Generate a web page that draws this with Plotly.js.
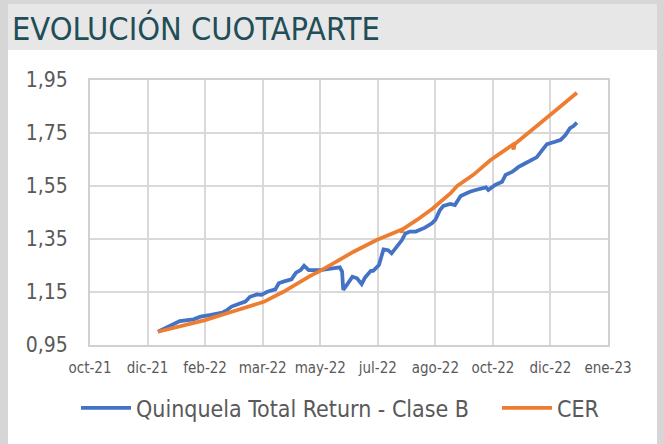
<!DOCTYPE html>
<html>
<head>
<meta charset="utf-8">
<script src="https://cdn.plot.ly/plotly-3.0.1.min.js"></script>
<style>
  html, body { margin: 0; padding: 0; background: #ffffff; }
  #wrap { position: relative; width: 664px; height: 444px; overflow: hidden; background: #ffffff; }
  #topstrip { position: absolute; left: 0; top: 0; width: 664px; height: 4px; background: #d6d6d6; }
  #header { position: absolute; left: 0; top: 4px; width: 664px; height: 46px; background: #e7e7e8; }
  #lborder { position: absolute; left: 0; top: 0; width: 8px; height: 444px; background: #d6d6d6; }
  #rborder { position: absolute; left: 657px; top: 0; width: 7px; height: 444px; background: #d6d6d6; }
  #chart { position: absolute; left: 0; top: 0; width: 664px; height: 444px; }
</style>
</head>
<body>
<div id="wrap">
  <div id="topstrip"></div>
  <div id="header"></div>
  <div id="lborder"></div>
  <div id="rborder"></div>
  <div id="chart"></div>
</div>
<script>
// ---- data ----
const seriesNames = ["Quinquela Total Return - Clase B", "CER"];

const fundDates = [
  "2021-12-26","2022-01-03","2022-01-10","2022-01-14","2022-01-26","2022-02-01","2022-02-09","2022-02-20",
  "2022-02-24","2022-02-28","2022-03-06","2022-03-12","2022-03-16","2022-03-22","2022-03-26","2022-03-31",
  "2022-04-07","2022-04-10","2022-04-14","2022-04-21","2022-04-25","2022-04-29","2022-05-02","2022-05-06",
  "2022-05-16","2022-05-28","2022-06-02","2022-06-04","2022-06-05","2022-06-08","2022-06-13","2022-06-17",
  "2022-06-21","2022-06-24","2022-06-29","2022-07-01","2022-07-06","2022-07-10","2022-07-14","2022-07-17",
  "2022-07-22","2022-07-26","2022-07-29","2022-08-02","2022-08-07","2022-08-10","2022-08-15","2022-08-21",
  "2022-08-24","2022-08-28","2022-08-31","2022-09-06","2022-09-10","2022-09-15","2022-09-19","2022-09-23",
  "2022-09-28","2022-10-02","2022-10-07","2022-10-09","2022-10-15","2022-10-21","2022-10-24","2022-10-30",
  "2022-11-04","2022-11-09","2022-11-13","2022-11-20","2022-11-25","2022-11-29","2022-12-06","2022-12-11",
  "2022-12-15","2022-12-19","2022-12-22","2022-12-25"
];
const fundValues = [
  1.000,1.017,1.029,1.040,1.047,1.057,1.063,1.072,
  1.082,1.095,1.105,1.114,1.132,1.141,1.139,1.151,
  1.160,1.183,1.189,1.198,1.223,1.233,1.249,1.233,
  1.233,1.239,1.243,1.227,1.158,1.176,1.208,1.202,
  1.180,1.205,1.230,1.230,1.252,1.311,1.308,1.296,
  1.321,1.346,1.371,1.378,1.378,1.384,1.393,1.409,
  1.422,1.459,1.475,1.482,1.478,1.512,1.522,1.528,
  1.535,1.541,1.545,1.535,1.554,1.566,1.592,1.604,
  1.621,1.633,1.642,1.658,1.686,1.708,1.717,1.724,
  1.742,1.768,1.776,1.789
];

const cerDates = [
  "2021-12-26","2022-01-17","2022-02-05","2022-02-24","2022-03-16","2022-03-28","2022-04-14","2022-04-26",
  "2022-05-07","2022-05-16","2022-06-02","2022-06-14","2022-07-04","2022-07-25","2022-07-26","2022-07-27",
  "2022-08-08","2022-08-22","2022-09-06","2022-09-12","2022-09-26","2022-10-11","2022-10-30","2022-10-31",
  "2022-11-01","2022-11-09","2022-11-23","2022-12-07","2022-12-25"
];
const cerValues = [
  1.000,1.025,1.044,1.070,1.095,1.113,1.151,1.183,
  1.210,1.230,1.271,1.302,1.346,1.384,1.375,1.388,
  1.422,1.466,1.522,1.550,1.592,1.648,1.705,1.688,
  1.708,1.736,1.787,1.837,1.902
];

const tickDates = ["2021-10-28","2021-12-17","2022-02-05","2022-03-27","2022-05-16",
                   "2022-07-05","2022-08-24","2022-10-13","2022-12-02","2023-01-21"];
const tickLabels = ["oct-21","dic-21","feb-22","mar-22","may-22",
                    "jul-22","ago-22","oct-22","dic-22","ene-23"];
const yTicks = [0.95, 1.15, 1.35, 1.55, 1.75, 1.95];

const chartTitle = "EVOLUCIÓN CUOTAPARTE";

// ---- chart ----
const FONT = "DejaVu Sans Condensed, DejaVu Sans, sans-serif";

const traces = [
  {
    x: fundDates, y: fundValues, type: "scatter", mode: "lines",
    name: seriesNames[0], legend: "legend",
    line: { color: "#4472C4", width: 3.75 }
  },
  {
    x: cerDates, y: cerValues, type: "scatter", mode: "lines",
    name: seriesNames[1], legend: "legend2",
    line: { color: "#ED7D31", width: 3.75 }
  }
];

const legendBase = {
  orientation: "h",
  xref: "container", yref: "container",
  xanchor: "left", yanchor: "middle",
  y: 1 - 408 / 444,
  itemwidth: 50,
  font: { family: FONT, size: 23, color: "#595959" },
  bgcolor: "rgba(0,0,0,0)",
  itemclick: false, itemdoubleclick: false
};

const layout = {
  width: 664, height: 444,
  paper_bgcolor: "rgba(0,0,0,0)",
  plot_bgcolor: "#ffffff",
  separators: ",.",
  margin: { l: 90, r: 56, t: 80, b: 99, pad: 0, autoexpand: false },
  title: {
    text: chartTitle,
    font: { family: FONT, size: 32.3, color: "#1f4e57" },
    xref: "container", yref: "container",
    x: 12 / 664, xanchor: "left",
    y: 1 - 29 / 444, yanchor: "middle"
  },
  xaxis: {
    type: "date",
    range: [tickDates[0], tickDates[tickDates.length - 1]],
    tickmode: "array", tickvals: tickDates, ticktext: tickLabels,
    showgrid: true, gridcolor: "#d9d9d9", gridwidth: 2,
    showline: true, linecolor: "#d0d0d0", linewidth: 2, mirror: true,
    ticks: "", ticklabelstandoff: 8,
    tickfont: { family: FONT, size: 15, color: "#595959" },
    zeroline: false, fixedrange: true
  },
  yaxis: {
    range: [0.95, 1.95],
    tickmode: "array", tickvals: yTicks, tickformat: ".2f",
    showgrid: true, gridcolor: "#d9d9d9", gridwidth: 2,
    showline: true, linecolor: "#d0d0d0", linewidth: 2, mirror: true,
    ticks: "", ticklabelstandoff: 16,
    tickfont: { family: FONT, size: 21, color: "#595959" },
    zeroline: false, fixedrange: true
  },
  showlegend: true,
  legend: Object.assign({}, legendBase, { x: 76 / 664 }),
  legend2: Object.assign({}, legendBase, { x: 497 / 664 })
};

Plotly.newPlot("chart", traces, layout, { staticPlot: true, displayModeBar: false });
</script>
</body>
</html>
